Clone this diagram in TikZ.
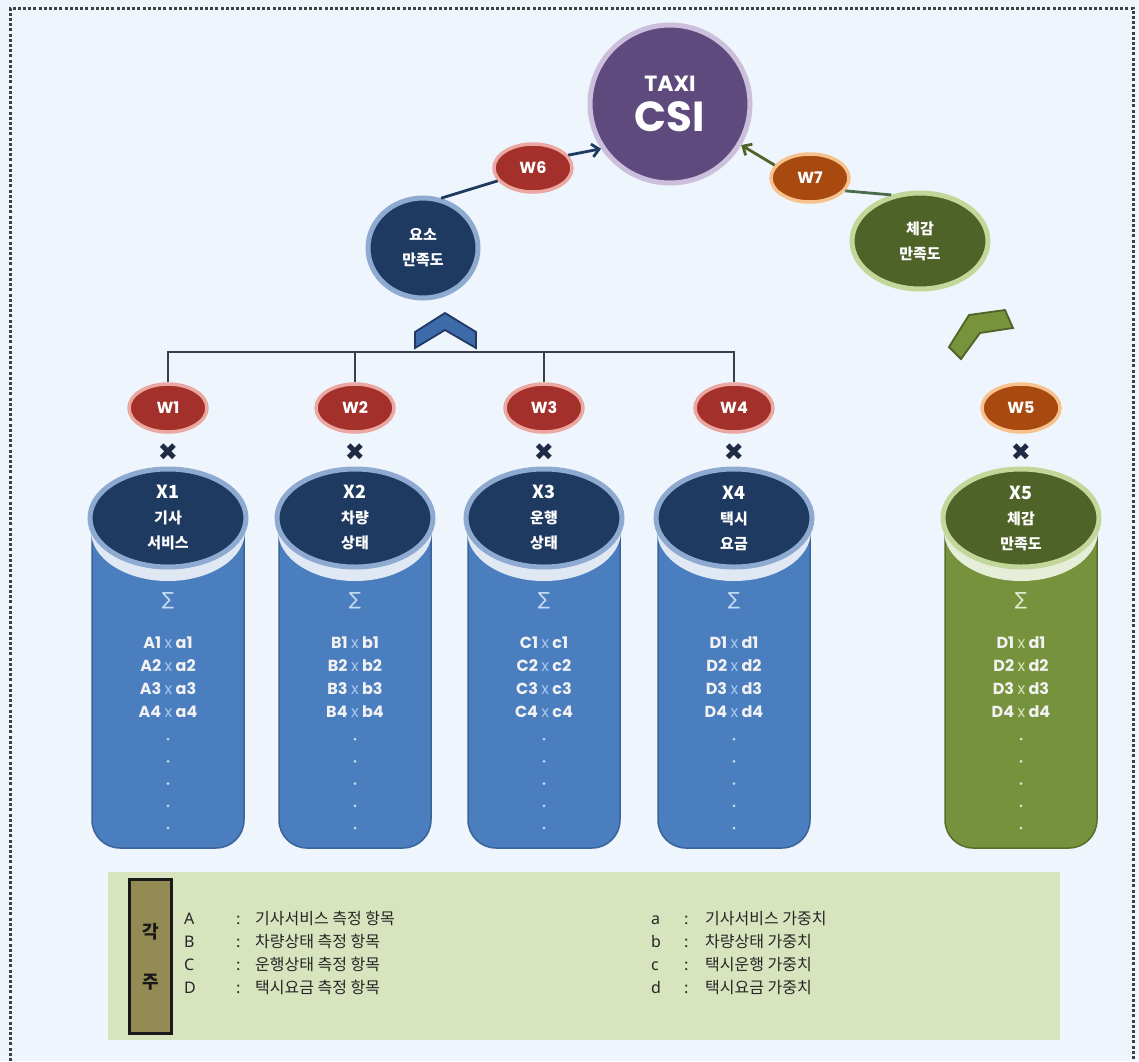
\documentclass[tikz,border=0pt]{standalone}
\usepackage{fontspec}
\setmainfont{Poppins}
\newfontfamily\krf{Noto Sans CJK KR}
\newfontfamily\latf{Noto Sans}
\newfontfamily\djv{DejaVu Sans}
\usetikzlibrary{shapes.geometric,arrows.meta}
\definecolor{bgc}{HTML}{EEF5FC}
\definecolor{navy}{HTML}{1F3A60}
\definecolor{navyb}{HTML}{8FAAD0}
\definecolor{bodyb}{HTML}{4A7EBF}
\definecolor{bodybdk}{HTML}{3A6398}
\definecolor{topb}{HTML}{1F3A60}
\definecolor{ringb}{HTML}{8FAAD0}
\definecolor{rimb}{HTML}{DFE8F3}
\definecolor{bodyg}{HTML}{76923C}
\definecolor{bodygdk}{HTML}{56702C}
\definecolor{topg}{HTML}{4F6228}
\definecolor{ringg}{HTML}{C4D79B}
\definecolor{rimg}{HTML}{E6EEDA}
\definecolor{wfillb}{HTML}{A3302A}
\definecolor{wringb}{HTML}{EBA8A2}
\definecolor{wfillg}{HTML}{A8490F}
\definecolor{wringg}{HTML}{F8C28E}
\definecolor{purp}{HTML}{5F4A7E}
\definecolor{purpb}{HTML}{CBBFDB}
\definecolor{legbg}{HTML}{D7E4BD}
\definecolor{kakbg}{HTML}{948A54}
\definecolor{xcolb}{HTML}{A9C8EC}
\definecolor{xcolg}{HTML}{D8E4BC}
\definecolor{sigb}{HTML}{C5DCF3}
\definecolor{sigg}{HTML}{E2EBD0}
\definecolor{dotcb}{HTML}{C9DCF2}
\definecolor{dotcg}{HTML}{E2EBD0}
\definecolor{mult}{HTML}{1F2A44}
\definecolor{treec}{HTML}{3A3F4A}
\definecolor{chevb}{HTML}{3D6AA8}
\definecolor{chevbd}{HTML}{1F3864}
\definecolor{chevg}{HTML}{77933C}
\definecolor{chevgd}{HTML}{4F6228}
\tikzset{
  ell/.style={ellipse, inner sep=0pt, text=white, align=center},
  wnode/.style={ell, minimum width=78pt, minimum height=48pt, line width=3.5pt,
    font=\fontsize{16}{16}\selectfont\bfseries},
  bignode/.style={ell, line width=5pt},
  xtop/.style={ell, minimum width=156pt, minimum height=98pt, line width=5pt,
    font=\krf\bfseries\fontsize{15}{25}\selectfont},
  rowtxt/.style={inner sep=0pt, text=white!95!black, font=\fontsize{16}{16}\selectfont\bfseries},
  dotn/.style={circle, inner sep=0pt, minimum size=3pt},
  multn/.style={inner sep=0pt, text=mult, font=\djv\fontsize{24}{24}\selectfont},
  legt/.style={anchor=base west, inner sep=0pt, text=black!85, font=\krf\fontsize{16}{16}\selectfont},
  legl/.style={anchor=base west, inner sep=0pt, text=black!85, font=\latf\fontsize{16}{16}\selectfont},
  treeline/.style={draw=treec, line width=2pt},
}
\begin{document}
\begin{tikzpicture}[x=1pt,y=-1pt]
\useasboundingbox (0,0) rectangle (1139,1061);
\fill[bgc] (0,0) rectangle (1139,1061);
\draw[line width=3pt, color=black!75, dash pattern=on 3pt off 2.2pt] (10,1061) -- (10,8) -- (1133,8) -- (1133,1061);

% top level
\node[bignode, fill=purp, draw=purpb, minimum width=160pt, minimum height=158pt] (csi) at (670,104)
  {{\fontsize{22}{22}\selectfont\bfseries TAXI}\\[9pt]{\fontsize{42}{42}\selectfont\bfseries CSI}};
\node[wnode, fill=wfillb, draw=wringb] (w6) at (533,168) {W6};
\node[wnode, fill=wfillg, draw=wringg] (w7) at (810,178) {W7};
\node[bignode, fill=navy, draw=navyb, minimum width=110pt, minimum height=100pt,
  font=\krf\bfseries\fontsize{15}{25}\selectfont] (yoso) at (423,248) {요소\\만족도};
\node[bignode, fill=topg, draw=ringg, minimum width=136pt, minimum height=96pt,
  font=\krf\bfseries\fontsize{15}{25}\selectfont] (cheg) at (920,241) {체감\\만족도};

\draw[draw=navy, line width=2.8pt] (yoso.70) -- (w6.200);
\draw[draw=navy, line width=2.8pt, -{Straight Barb[length=7pt,width=13pt]}] (w6.20) -- (csi.213);
\draw[draw=black!70!green!40!gray, line width=2.8pt] (cheg.122) -- (w7.340);
\draw[draw=chevgd, line width=2.8pt, -{Straight Barb[length=7pt,width=13pt]}] (w7.160) -- (csi.330);

% chevrons
\filldraw[fill=chevb, draw=chevbd, line width=1.8pt, line join=miter]
  (415,332) -- (445,313) -- (476,332) -- (476,348) -- (445,330) -- (415,348) -- cycle;
\filldraw[fill=chevg, draw=chevgd, line width=1.8pt, line join=miter]
  (949,347) -- (969,315) -- (1005,310) -- (1013,328) -- (980,333) -- (961,359) -- cycle;

% columns
\foreach \i/\cx/\ta/\tb/\Up/\lw/\grp in {1/168/기사/서비스/A/a/b, 2/355/차량/상태/B/b/b,
    3/544/운행/상태/C/c/b, 4/734/택시/요금/D/d/b, 5/1021/체감/만족도/D/d/g}{
  \filldraw[fill=body\grp, draw=body\grp dk, line width=1.5pt]
    (\cx-76,525) -- (\cx-76,820) arc[start angle=180, end angle=90, radius=28]
    -- (\cx+48,848) arc[start angle=90, end angle=0, radius=28] -- (\cx+76,525) -- cycle;
  \node[ell, fill=rim\grp, minimum width=154pt, minimum height=100pt] (rim\i) at (\cx,531) {};
  \node[xtop, fill=top\grp, draw=ring\grp] (x\i) at (\cx,518)
    {{\fontsize{18}{25}\selectfont X\i}\\\ta\\\tb};
  \node[wnode, fill=wfill\grp, draw=wring\grp] (w\i) at (\cx,408) {W\i};
  \node[multn] (m\i) at (\cx,452) {✖};
  \node[inner sep=0pt, text=sig\grp, font=\djv\fontsize{18}{18}\selectfont] (s\i) at (\cx,601) {∑};
  \foreach \k in {1,...,4}{
    \node[rowtxt] (t\i-\k) at (\cx,{620+23*\k}) {\Up\k{} {\color{xcol\grp}\mdseries x} \lw\k};
  }
  \foreach \k in {0,...,4}{
    \node[dotn, fill=dotc\grp] (d\i-\k) at (\cx,{739+22.3*\k}) {};
  }
}

% tree
\draw[treeline] (w1.north) -- (w1.north |- 0,352) -- (w4.north |- 0,352) -- (w4.north);
\draw[treeline] (w2.north) -- (w2.north |- 0,352);
\draw[treeline] (w3.north) -- (w3.north |- 0,352);

% legend
\node[fill=legbg, minimum width=952pt, minimum height=168pt, inner sep=0pt, anchor=north west] (leg) at (108,872) {};
\node[fill=kakbg, draw=black!90, line width=2.8pt, minimum width=42pt, minimum height=154pt,
  inner sep=0pt, anchor=north west, align=center, text=black!90,
  font=\krf\bfseries\fontsize{18}{50}\selectfont] (kak) at (128,878) {각\\주};
\foreach \j/\Lt/\Ld/\lt/\ld in {0/A/기사서비스 측정 항목/a/기사서비스 가중치,
    1/B/차량상태 측정 항목/b/차량상태 가중치,
    2/C/운행상태 측정 항목/c/택시운행 가중치,
    3/D/택시요금 측정 항목/d/택시요금 가중치}{
  \node[legl] (la\j) at (184,{924+23*\j}) {\Lt};
  \node[legt] (lc\j) at (236,{924+23*\j}) {:};
  \node[legt] (ld\j) at (255,{924+23*\j}) {\Ld};
  \node[legl] (ra\j) at (651,{924+23*\j}) {\lt};
  \node[legt] (rc\j) at (684,{924+23*\j}) {:};
  \node[legt] (rd\j) at (705,{924+23*\j}) {\ld};
}
\end{tikzpicture}
\end{document}
